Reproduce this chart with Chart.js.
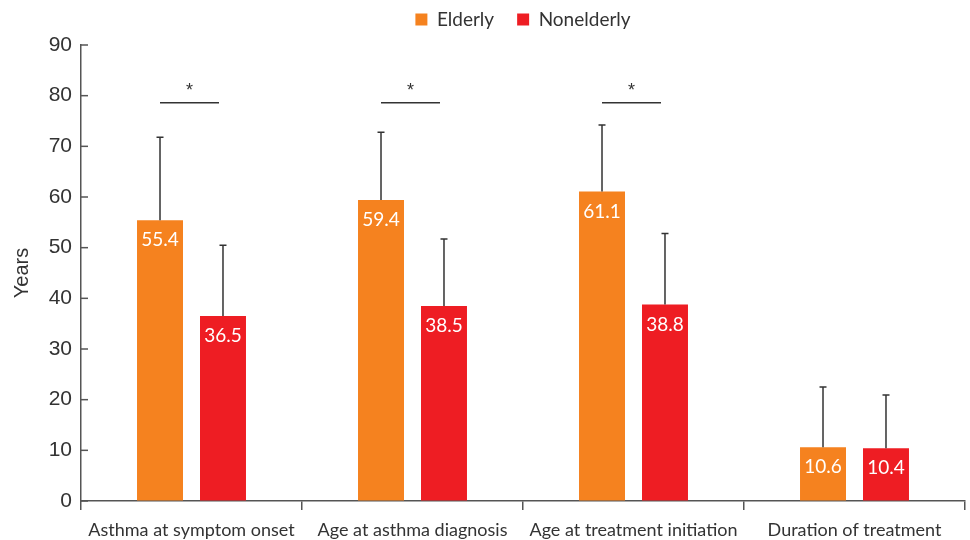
<!DOCTYPE html>
<html>
<head>
<meta charset="utf-8">
<script src="https://cdn.jsdelivr.net/npm/chart.js@4.4.1/dist/chart.umd.min.js"></script>
<style>
  html, body { margin: 0; padding: 0; background: #fff; }
  #wrap { width: 970px; height: 540px; }
</style>
</head>
<body>
<div id="wrap"><canvas id="chart"></canvas></div>
<script>
/* globals Chart:false */
const categories = [
    "Asthma at symptom onset",
    "Age at asthma diagnosis",
    "Age at treatment initiation",
    "Duration of treatment",
]
const seriesNames = ["Elderly", "Nonelderly"]
const elderly = [55.4, 59.4, 61.1, 10.6]
const nonelderly = [36.5, 38.5, 38.8, 10.4]
const elderlySD = [16.4, 13.4, 13.1, 11.9]
const nonelderlySD = [14.0, 13.2, 14.0, 10.5]
const significant = [true, true, true, false]
const sigLevel = 78.6
const yMax = 90
const yStep = 10

const colors = ["#F5821F", "#EE1D23"]
const textColor = "#333333"
const axisColor = "#555555"

// error bars, value labels and significance marks
const extras = {
    id: 'extras',
    afterLayout(chart) {
        // nudge the legend up a little, chart area stays put
        chart.legend.top -= 6
        chart.legend.bottom -= 6
    },
    afterDatasetsDraw(chart) {
        const ctx = chart.ctx
        const y = chart.scales.y
        const sds = [elderlySD, nonelderlySD]
        ctx.save()
        chart.data.datasets.forEach((ds, di) => {
            const meta = chart.getDatasetMeta(di)
            meta.data.forEach((bar, i) => {
                const top = y.getPixelForValue(ds.data[i] + sds[di][i])
                ctx.strokeStyle = textColor
                ctx.lineWidth = 1.5
                ctx.beginPath()
                ctx.moveTo(bar.x, bar.y)
                ctx.lineTo(bar.x, top)
                ctx.moveTo(bar.x - 3.5, top)
                ctx.lineTo(bar.x + 3.5, top)
                ctx.stroke()

                ctx.fillStyle = '#ffffff'
                ctx.font = '19px Lato, "Noto Sans", sans-serif'
                ctx.textAlign = 'center'
                ctx.textBaseline = 'middle'
                ctx.fillText(ds.data[i].toFixed(1), bar.x, bar.y + 20)
            })
        })
        const m0 = chart.getDatasetMeta(0)
        const m1 = chart.getDatasetMeta(1)
        significant.forEach((s, i) => {
            if (!s) return
            const ly = y.getPixelForValue(sigLevel)
            const x0 = m0.data[i].x
            const x1 = m1.data[i].x - 4
            ctx.strokeStyle = textColor
            ctx.lineWidth = 1.5
            ctx.beginPath()
            ctx.moveTo(x0, ly)
            ctx.lineTo(x1, ly)
            ctx.stroke()
            ctx.fillStyle = textColor
            ctx.font = '18px "Liberation Sans", Arial, sans-serif'
            ctx.textAlign = 'center'
            ctx.textBaseline = 'middle'
            ctx.fillText('*', (x0 + x1) / 2, ly - 12)
        })
        // inward ticks on the y axis
        y.ticks.forEach((t) => {
            const py = y.getPixelForValue(t.value)
            ctx.strokeStyle = axisColor
            ctx.lineWidth = 1.5
            ctx.beginPath()
            ctx.moveTo(y.right, py)
            ctx.lineTo(y.right + 7, py)
            ctx.stroke()
        })
        ctx.restore()
    }
}

const ctx = document.getElementById('chart')
new Chart(ctx, {
    type: 'bar',
    data: {
        labels: categories,
        datasets: [
            {
                label: seriesNames[0],
                data: elderly,
                backgroundColor: colors[0],
                categoryPercentage: 0.57,
                barPercentage: 0.73,
            },
            {
                label: seriesNames[1],
                data: nonelderly,
                backgroundColor: colors[1],
                categoryPercentage: 0.57,
                barPercentage: 0.73,
            },
        ]
    },
    options: {
        responsive: true,
        maintainAspectRatio: false,
        animation: false,
        layout: { padding: { top: -13, right: 5, bottom: 0, left: 0 } },
        plugins: {
            legend: {
                position: 'top',
                fullSize: false,
                labels: {
                    boxWidth: 12,
                    boxHeight: 12,
                    padding: 23,
                    color: textColor,
                    font: { family: 'Lato, "Noto Sans", sans-serif', size: 19 },
                }
            },
            tooltip: { enabled: false },
        },
        scales: {
            x: {
                grid: {
                    display: true,
                    offset: true,
                    drawOnChartArea: false,
                    drawTicks: true,
                    tickLength: 9,
                    color: axisColor,
                    lineWidth: 1.5,
                },
                border: { display: true, color: axisColor, width: 1.5 },
                ticks: {
                    color: textColor,
                    padding: 9,
                    maxRotation: 0,
                    autoSkip: false,
                    font: { family: 'Lato, "Noto Sans", sans-serif', size: 18 },
                },
                afterFit(scale) { scale.height = 39 },
            },
            y: {
                min: 0,
                max: yMax,
                grid: { display: true, drawOnChartArea: false, drawTicks: false },
                border: { display: true, color: axisColor, width: 1.5 },
                ticks: {
                    stepSize: yStep,
                    color: textColor,
                    padding: 9,
                    font: { family: '"Liberation Sans", Arial, sans-serif', size: 21 },
                },
                title: {
                    display: true,
                    text: 'Years',
                    color: textColor,
                    padding: { top: 10, bottom: 0 },
                    font: { family: '"Liberation Sans", Arial, sans-serif', size: 20 },
                },
                afterFit(scale) {
                    scale.width = 81
                    scale.paddingTop = 45
                },
            }
        }
    },
    plugins: [extras]
})
</script>
</body>
</html>
